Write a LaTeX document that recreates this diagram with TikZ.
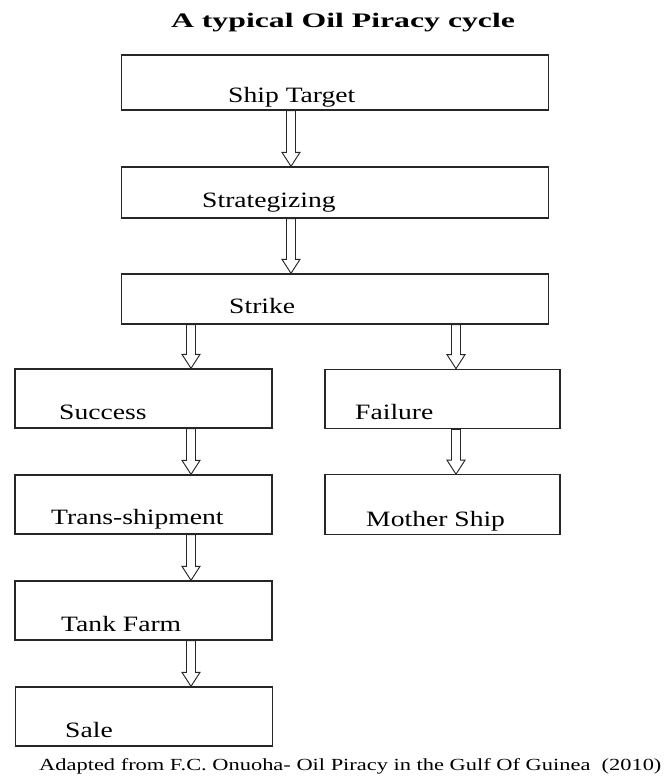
\documentclass[tikz,border=0pt]{standalone}
\usepackage{fontspec}
\setmainfont{Liberation Serif}
\newfontfamily\stagefont[FakeStretch=1.26]{Liberation Serif}
\newfontfamily\headfont[FakeStretch=1.54]{Liberation Serif}
\newfontfamily\notefont[FakeStretch=1.32]{Liberation Serif}

% hollow block arrow: #1 x position, #2 from node, #3 to node
\newcommand{\flowarrow}[3]{%
  \path (#1,0 |- #2.south) coordinate (#2-#1) (#1,0 |- #3.north) coordinate (#3-#1);
  \draw[hollow] ([xshift=-0.135cm]#2-#1) -- ([xshift=-0.135cm,yshift=0.42cm]#3-#1)
    -- ([xshift=-0.27cm,yshift=0.42cm]#3-#1) -- (#3-#1)
    -- ([xshift=0.27cm,yshift=0.42cm]#3-#1) -- ([xshift=0.135cm,yshift=0.42cm]#3-#1)
    -- ([xshift=0.135cm]#2-#1) -- cycle;
}

\begin{document}
\begin{tikzpicture}[
x=0.03cm, y=-0.03cm,
stagebox/.style={draw=black!85, line width=1.1pt, rectangle, inner sep=0pt},
widebox/.style={stagebox, minimum width=12.8cm},
leftbox/.style={stagebox, minimum width=7.71cm, minimum height=1.77cm},
rightbox/.style={stagebox, minimum width=7.05cm, minimum height=1.78cm},
stagetext/.style={anchor=base west, inner sep=0pt, font=\stagefont\fontsize{18.7}{22}\selectfont},
hollow/.style={draw=black!85, fill=white, line width=0.8pt, line join=miter}
]
\useasboundingbox (0,0) rectangle (669,776);

% title
\node[anchor=base, inner sep=0pt, font=\headfont\bfseries\fontsize{17.6}{21}\selectfont] (title) at (343,27) {A typical Oil Piracy cycle};

% main column
\node[widebox, minimum height=1.65cm] (target) at (335,82.5) {};
\node[stagetext] (target-text) at (228,102) {Ship Target};

\node[widebox, minimum height=1.53cm] (strat) at (335,192.5) {};
\node[stagetext] (strat-text) at (202,207) {Strategizing};

\node[widebox, minimum height=1.5cm] (strike) at (335,299) {};
\node[stagetext] (strike-text) at (229,313) {Strike};

% success branch
\node[leftbox] (success) at (143.5,398.5) {};
\node[stagetext] (success-text) at (59,419) {Success};

\node[leftbox] (trans) at (143.5,504.5) {};
\node[stagetext] (trans-text) at (51,524) {Trans-shipment};

\node[leftbox] (tank) at (143.5,610.5) {};
\node[stagetext] (tank-text) at (61,631) {Tank Farm};

\node[leftbox] (sale) at (144,716.5) {};
\node[stagetext] (sale-text) at (65,737) {Sale};

% failure branch
\node[rightbox] (failure) at (442.5,399) {};
\node[stagetext] (failure-text) at (355,419) {Failure};

\node[rightbox] (mother) at (442.5,504.5) {};
\node[stagetext] (mother-text) at (366,526) {Mother Ship};

% arrows
\flowarrow{291}{target}{strat}
\flowarrow{291}{strat}{strike}
\flowarrow{191}{strike}{success}
\flowarrow{456}{strike}{failure}
\flowarrow{191}{success}{trans}
\flowarrow{456}{failure}{mother}
\flowarrow{191}{trans}{tank}
\flowarrow{191}{tank}{sale}

% source note
\node[anchor=base west, inner sep=0pt, font=\notefont\fontsize{14.5}{17}\selectfont] (source) at (39,770) {Adapted from F.C. Onuoha- Oil Piracy in the Gulf Of Guinea\ \ (2010)};
\end{tikzpicture}
\end{document}
